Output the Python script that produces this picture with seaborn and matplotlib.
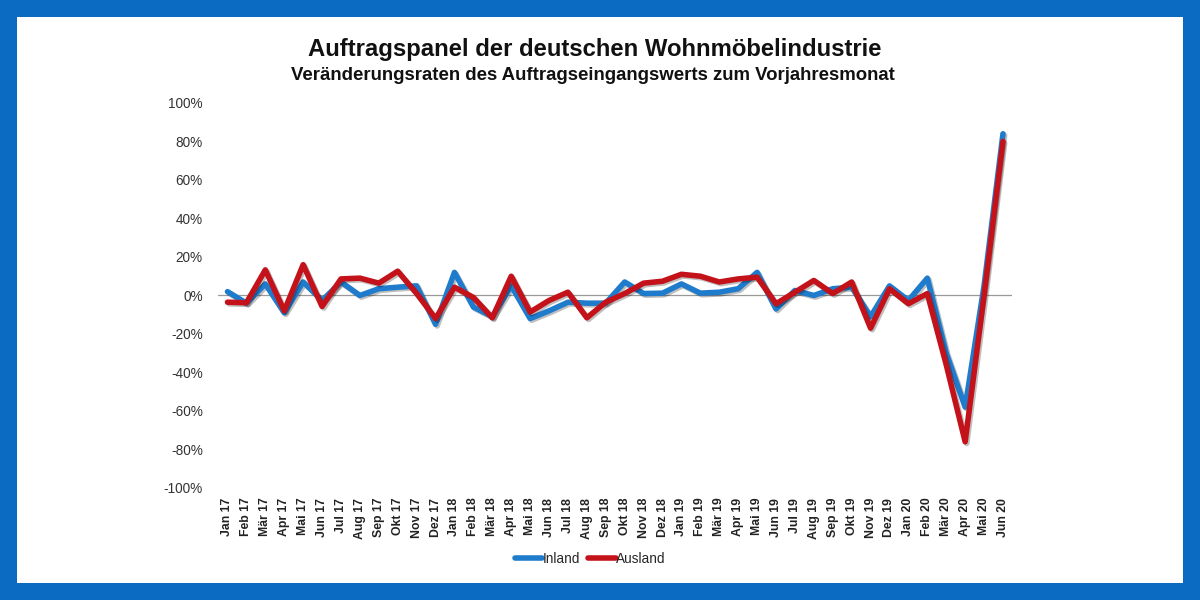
import matplotlib
matplotlib.use("Agg")
import matplotlib.pyplot as plt
import matplotlib.patheffects as pe
from matplotlib.patches import Rectangle
import seaborn as sns
import pandas as pd
import numpy as np

months = ["Jan 17", "Feb 17", "Mär 17", "Apr 17", "Mai 17", "Jun 17", "Jul 17", "Aug 17",
          "Sep 17", "Okt 17", "Nov 17", "Dez 17", "Jan 18", "Feb 18", "Mär 18", "Apr 18",
          "Mai 18", "Jun 18", "Jul 18", "Aug 18", "Sep 18", "Okt 18", "Nov 18", "Dez 18",
          "Jan 19", "Feb 19", "Mär 19", "Apr 19", "Mai 19", "Jun 19", "Jul 19", "Aug 19",
          "Sep 19", "Okt 19", "Nov 19", "Dez 19", "Jan 20", "Feb 20", "Mär 20", "Apr 20",
          "Mai 20", "Jun 20"]

inland = [2, -4, 6, -9, 7, -2.6, 7, 0, 3.5, 4.3, 5, -15, 12, -6, -11, 5, -12, -8, -3.5, -4,
          -4, 7, 1, 1.2, 6, 1.2, 1.7, 3.5, 12, -7, 2.6, 0, 3.5, 4.3, -11, 5, -2.6, 9, -30, -58,
          5, 84]
ausland = [-3.5, -3.8, 13.3, -8, 16, -5.7, 8.6, 9, 6.4, 12.6, 1, -12, 4.3, -1, -11.6, 10,
           -8.6, -2.6, 1.7, -11.6, -3.5, 1, 6.4, 7.4, 11, 10, 7, 8.6, 9.5, -4.3, 1.7, 7.8, 1,
           7, -17, 3.5, -4.3, 1, -36, -76, 0, 80]

yticks = [-100, -80, -60, -40, -20, 0, 20, 40, 60, 80, 100]

sns.set_style("white")
plt.rcParams['font.family'] = ['Liberation Sans', 'DejaVu Sans']

df = pd.DataFrame({
    "pos": list(range(len(months))) * 2,
    "wert": inland + ausland,
    "reihe": ["Inland"] * len(months) + ["Ausland"] * len(months),
})

fig = plt.figure(figsize=(12, 6), dpi=100)
fig.patch.set_facecolor("#0b6bc3")
fig.add_artist(Rectangle((17 / 1200, 17 / 600), 1166 / 1200, 566 / 600,
                         transform=fig.transFigure, facecolor="white",
                         edgecolor="none", zorder=-5))

ax = fig.add_axes([0.1817, 0.1867, 0.662, 0.6417])
ax.set_facecolor("none")

ax.axhline(0, color="#999999", lw=0.9, zorder=1)

sns.lineplot(data=df, x="pos", y="wert", hue="reihe", ax=ax, sort=False,
             palette={"Inland": "#1f7ccc", "Ausland": "#c4121a"}, lw=4,
             zorder=3, legend=False)
for line in ax.get_lines()[1:]:
    line.set_path_effects([pe.SimpleLineShadow(offset=(1.2, -1.2), alpha=0.25),
                           pe.Normal()])

ax.set_xlim(-0.5, len(months) - 0.5)
ax.set_ylim(-100, 100)
ax.set_xticks(range(len(months)))
ax.set_xticklabels(months, rotation=90, fontsize=8.8, fontweight="bold", color="#222222")
ax.set_yticks(yticks)
ax.set_yticklabels([f"{v}%" for v in yticks], fontsize=9.8, color="#333333")
ax.tick_params(axis="both", length=0)
ax.tick_params(axis="y", pad=11)
ax.tick_params(axis="x", pad=7)
ax.set_xlabel("")
ax.set_ylabel("")
sns.despine(ax=ax, left=True, bottom=True)

handles = [plt.Line2D([], [], color="#1f7ccc", lw=4),
           plt.Line2D([], [], color="#c4121a", lw=4)]
fig.legend(handles, ["Inland", "Ausland"], loc="center", bbox_to_anchor=(0.492, 0.068),
           ncol=2, frameon=False, fontsize=9.8, handlelength=2.0, handletextpad=0.05,
           columnspacing=0.6)

fig.text(0.496, 0.917, "Auftragspanel der deutschen Wohnmöbelindustrie",
         ha="center", va="center", fontsize=17.2, fontweight="bold", color="#111111")
fig.text(0.494, 0.875, "Veränderungsraten des Auftragseingangswerts zum Vorjahresmonat",
         ha="center", va="center", fontsize=13.4, fontweight="bold", color="#111111")

fig.savefig("out.png", dpi=100)
